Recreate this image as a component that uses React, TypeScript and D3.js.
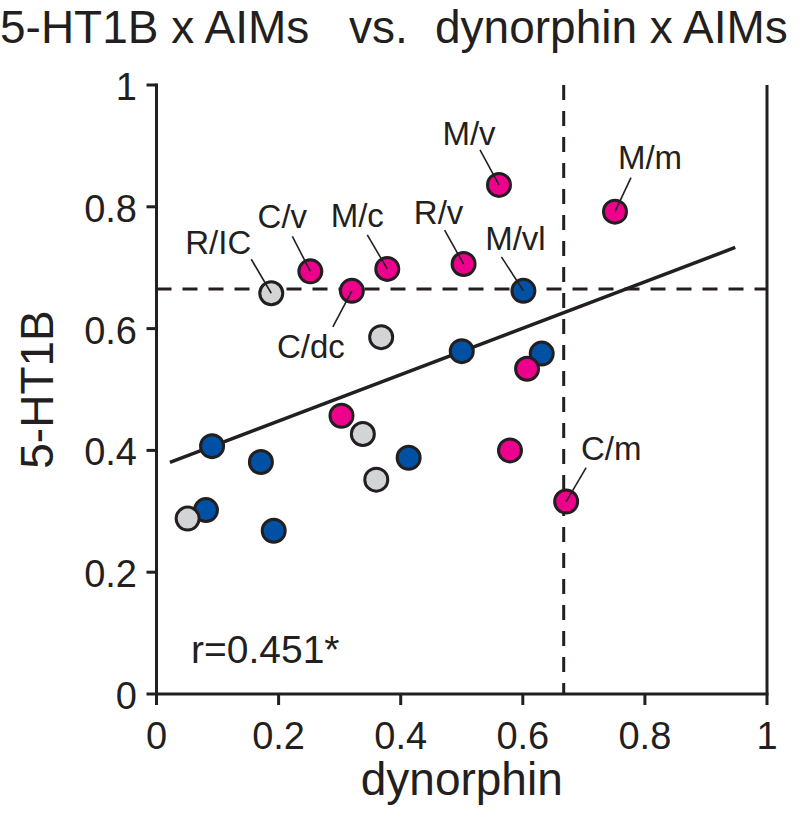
import React from "react";
import * as d3 from "d3";

// ---- data ----
const magentaX = [0.561, 0.751, 0.252, 0.378, 0.503, 0.320, 0.607, 0.303, 0.579, 0.671];
const magentaY = [0.836, 0.792, 0.694, 0.698, 0.706, 0.662, 0.534, 0.457, 0.400, 0.316];
const magentaLabels = ["M/v", "M/m", "C/v", "M/c", "R/v", "C/dc", "", "", "", "C/m"];

const blueX = [0.601, 0.500, 0.631, 0.091, 0.171, 0.413, 0.081, 0.192];
const blueY = [0.662, 0.563, 0.559, 0.407, 0.381, 0.388, 0.302, 0.268];
const blueLabels = ["M/vl", "", "", "", "", "", "", ""];

const grayX = [0.188, 0.368, 0.338, 0.360, 0.051];
const grayY = [0.658, 0.586, 0.427, 0.352, 0.288];
const grayLabels = ["R/IC", "", "", "", ""];

const xTicks = [0, 0.2, 0.4, 0.6, 0.8, 1];
const yTicks = [0, 0.2, 0.4, 0.6, 0.8, 1];
const xTickLabels = ["0", "0.2", "0.4", "0.6", "0.8", "1"];
const yTickLabels = ["0", "0.2", "0.4", "0.6", "0.8", "1"];

const fitSlope = 0.381;
const fitIntercept = 0.372;
const fitXRange = [0.022, 0.948];
const thresholdX = 0.667;
const thresholdY = 0.665;
const rText = "r=0.451*";

// label layout (pixel offsets from the point: text dx, text dy (baseline), leader dx, leader dy)
const labelLayout: Record<string, number[]> = {
  "M/v": [-30, -40, -19, -35],
  "M/m": [35, -43, 16, -34],
  "C/v": [-28, -43, -18, -35],
  "M/c": [-30, -42, -20, -34],
  "R/v": [-25, -40, -19, -34],
  "M/vl": [-8, -41, -22, -34],
  "R/IC": [-53, -39, -20, -34],
  "C/dc": [-41, 67, -19, 36],
  "C/m": [45, -42, 20, -34],
};

const FONT = "'Liberation Sans', Arial, Helvetica, sans-serif";
const INK = "#231f20";
const MAGENTA = "#ec008c";
const BLUE = "#0051a3";
const GRAY = "#d3d4d5";

export default function App() {
  const x = d3.scaleLinear().domain([0, 1]).range([156.5, 767]);
  const y = d3.scaleLinear().domain([0, 1]).range([694, 85]);

  const groups = [
    { xs: blueX, ys: blueY, labels: blueLabels, color: BLUE },
    { xs: magentaX, ys: magentaY, labels: magentaLabels, color: MAGENTA },
    { xs: grayX, ys: grayY, labels: grayLabels, color: GRAY },
  ];

  const fitLine = d3
    .line<number>()
    .x((d) => x(d))
    .y((d) => y(fitIntercept + fitSlope * d));

  const labeled: { px: number; py: number; text: string }[] = [];
  groups.forEach((g) =>
    g.xs.forEach((v, i) => {
      if (g.labels[i]) labeled.push({ px: x(v), py: y(g.ys[i]), text: g.labels[i] });
    })
  );

  return (
    <svg
      width={800}
      height={816}
      style={{ position: "absolute", left: 0, top: 0, background: "#fff" }}
      fontFamily={FONT}
    >
      {/* title */}
      <text x={0} y={43} fontSize={46} fill={INK}>5-HT1B x AIMs</text>
      <text x={349} y={43} fontSize={46} fill={INK}>vs.</text>
      <text x={435} y={43} fontSize={46} fill={INK}>dynorphin x AIMs</text>

      {/* threshold dashed lines */}
      <line
        x1={x(0)} x2={x(1)} y1={y(thresholdY)} y2={y(thresholdY)}
        stroke={INK} strokeWidth={3} strokeDasharray="15,11"
      />
      <line
        x1={x(thresholdX)} x2={x(thresholdX)} y1={y(1)} y2={y(0)}
        stroke={INK} strokeWidth={3} strokeDasharray="15,11"
      />

      {/* regression line */}
      <path d={fitLine(fitXRange) || ""} fill="none" stroke={INK} strokeWidth={3.5} />

      {/* points */}
      {groups.map((g, gi) =>
        g.xs.map((v, i) => (
          <circle
            key={`p${gi}-${i}`}
            cx={x(v)}
            cy={y(g.ys[i])}
            r={11.5}
            fill={g.color}
            stroke={INK}
            strokeWidth={3}
          />
        ))
      )}

      {/* labels with leaders */}
      {labeled.map((l) => {
        const lay = labelLayout[l.text];
        return (
          <g key={l.text}>
            <line
              x1={l.px} y1={l.py} x2={l.px + lay[2]} y2={l.py + lay[3]}
              stroke={INK} strokeWidth={1.6}
            />
            <text
              x={l.px + lay[0]} y={l.py + lay[1]}
              fontSize={33} textAnchor="middle" fill={INK}
            >
              {l.text}
            </text>
          </g>
        );
      })}

      {/* axes */}
      <line x1={x(0)} x2={x(0)} y1={y(1)} y2={y(0)} stroke={INK} strokeWidth={3} strokeLinecap="square" />
      <line x1={x(0)} x2={x(1)} y1={y(0)} y2={y(0)} stroke={INK} strokeWidth={3} strokeLinecap="square" />
      <line x1={x(1)} x2={x(1)} y1={y(1)} y2={y(0)} stroke={INK} strokeWidth={3} />

      {xTicks.map((t, i) => (
        <g key={`xt${i}`}>
          <line x1={x(t)} x2={x(t)} y1={y(0)} y2={y(0) + 11} stroke={INK} strokeWidth={3} />
          <text x={x(t)} y={749} fontSize={38} textAnchor="middle" fill={INK}>
            {xTickLabels[i]}
          </text>
        </g>
      ))}
      {yTicks.map((t, i) => (
        <g key={`yt${i}`}>
          <line x1={x(0) - 10} x2={x(0)} y1={y(t)} y2={y(t)} stroke={INK} strokeWidth={3} />
          <text x={137} y={y(t) + 15} fontSize={38} textAnchor="end" fill={INK}>
            {yTickLabels[i]}
          </text>
        </g>
      ))}

      {/* axis titles */}
      <text x={(x(0) + x(1)) / 2} y={795} fontSize={46} textAnchor="middle" fill={INK}>
        dynorphin
      </text>
      <text
        transform={`translate(53, ${(y(0) + y(1)) / 2}) rotate(-90)`}
        fontSize={46}
        textAnchor="middle"
        fill={INK}
      >
        5-HT1B
      </text>

      {/* correlation */}
      <text x={191} y={663} fontSize={39} fill={INK}>{rText}</text>
    </svg>
  );
}
